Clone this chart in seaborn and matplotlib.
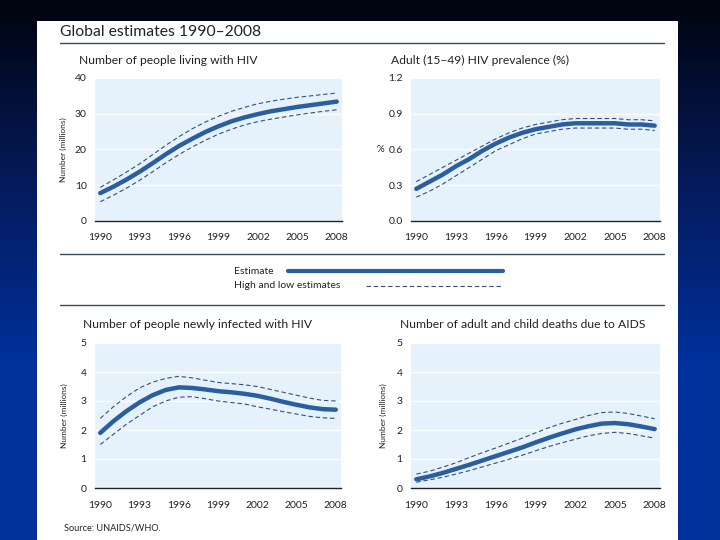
import numpy as np
import pandas as pd
import seaborn as sns
import matplotlib.pyplot as plt
from matplotlib.colors import LinearSegmentedColormap
from matplotlib.lines import Line2D

years = list(range(1990, 2009))

# people living with HIV (millions)
living_est = [7.8, 9.6, 11.6, 13.8, 16.2, 18.7, 21.0, 23.0, 24.9, 26.5, 27.9, 29.0, 29.9, 30.7, 31.3, 31.9, 32.4, 32.9, 33.4]
living_high = [9.4, 11.5, 13.7, 16.0, 18.6, 21.2, 23.6, 25.8, 27.7, 29.3, 30.7, 31.8, 32.8, 33.5, 34.1, 34.6, 35.0, 35.4, 35.8]
living_low = [5.4, 7.2, 9.2, 11.4, 13.8, 16.3, 18.6, 20.7, 22.6, 24.3, 25.7, 26.9, 27.8, 28.5, 29.1, 29.7, 30.2, 30.7, 31.1]

# adult prevalence (%)
prev_est = [0.27, 0.33, 0.39, 0.46, 0.52, 0.59, 0.65, 0.70, 0.74, 0.77, 0.79, 0.81, 0.82, 0.82, 0.82, 0.82, 0.81, 0.81, 0.80]
prev_high = [0.33, 0.39, 0.45, 0.51, 0.57, 0.63, 0.69, 0.74, 0.78, 0.81, 0.83, 0.85, 0.86, 0.86, 0.86, 0.86, 0.85, 0.85, 0.84]
prev_low = [0.20, 0.25, 0.31, 0.38, 0.45, 0.52, 0.59, 0.64, 0.69, 0.73, 0.75, 0.77, 0.78, 0.78, 0.78, 0.78, 0.77, 0.77, 0.76]

# newly infected (millions)
new_est = [1.9, 2.3, 2.65, 2.95, 3.2, 3.38, 3.47, 3.45, 3.4, 3.34, 3.3, 3.25, 3.18, 3.08, 2.97, 2.87, 2.78, 2.72, 2.7]
new_high = [2.4, 2.8, 3.15, 3.45, 3.65, 3.78, 3.85, 3.8, 3.72, 3.64, 3.6, 3.56, 3.5, 3.4, 3.3, 3.2, 3.1, 3.02, 3.0]
new_low = [1.5, 1.85, 2.2, 2.5, 2.8, 3.0, 3.13, 3.15, 3.08, 3.0, 2.95, 2.9, 2.8, 2.72, 2.63, 2.55, 2.47, 2.42, 2.4]

# AIDS deaths (millions)
death_est = [0.3, 0.4, 0.52, 0.66, 0.8, 0.95, 1.1, 1.25, 1.4, 1.57, 1.73, 1.88, 2.02, 2.13, 2.22, 2.24, 2.2, 2.12, 2.03]
death_high = [0.48, 0.58, 0.72, 0.87, 1.05, 1.22, 1.38, 1.55, 1.72, 1.9, 2.08, 2.23, 2.36, 2.5, 2.6, 2.62, 2.57, 2.48, 2.39]
death_low = [0.2, 0.28, 0.37, 0.48, 0.6, 0.73, 0.86, 0.99, 1.13, 1.28, 1.43, 1.56, 1.68, 1.8, 1.88, 1.92, 1.88, 1.8, 1.72]

x_ticks = [1990, 1993, 1996, 1999, 2002, 2005, 2008]

est_color = "#2b5e9e"
band_color = "#34507c"
face_color = "#e5f1fb"
rule_color = "#2f4d5e"
text_color = "#222222"

sns.set_style("white")
plt.rcParams['font.family'] = ['Lato', 'DejaVu Sans']

W, H = 720, 540
fig = plt.figure(figsize=(7.2, 5.4), dpi=100)

# slide background gradient
bg = fig.add_axes([0, 0, 1, 1])
cmap = LinearSegmentedColormap.from_list("slide", ["#00040e", "#061a5a", "#00309a", "#00309a"])
grad = np.linspace(0, 1, 256).reshape(-1, 1)
bg.imshow(grad, aspect="auto", cmap=cmap, extent=[0, 1, 0, 1], origin="upper")
bg.axis("off")

# white sheet
sheet = fig.add_axes([37 / W, 0, (678 - 37) / W, 1 - 21 / H])
sheet.set_facecolor("white")
sheet.set_xticks([])
sheet.set_yticks([])
for s in sheet.spines.values():
    s.set_visible(False)


def fx(px):
    return px / W


def fy(py):
    return 1 - py / H


fig.text(fx(60), fy(32), "Global estimates 1990\u20132008", fontsize=11.3,
         color=text_color, va="center")
for yy in [43, 254, 305]:
    fig.add_artist(Line2D([fx(60), fx(664)], [fy(yy), fy(yy)], color=rule_color, lw=1.0))

panels = [
    dict(box=(95, 78, 342, 221), est=living_est, hi=living_high, lo=living_low,
         ylim=(0, 40), yticks=[0, 10, 20, 30, 40], ylabels=["0", "10", "20", "30", "40"],
         title="Number of people living with HIV", tpos=(79, 60), ylab="Number (millions)", ylx=63),
    dict(box=(411, 78, 660, 221), est=prev_est, hi=prev_high, lo=prev_low,
         ylim=(0, 1.2), yticks=[0, 0.3, 0.6, 0.9, 1.2], ylabels=["0.0", "0.3", "0.6", "0.9", "1.2"],
         title="Adult (15\u201349) HIV prevalence (%)", tpos=(391, 60), ylab="%", ylx=380),
    dict(box=(95, 343, 341, 488), est=new_est, hi=new_high, lo=new_low,
         ylim=(0, 5), yticks=[0, 1, 2, 3, 4, 5], ylabels=["0", "1", "2", "3", "4", "5"],
         title="Number of people newly infected with HIV", tpos=(83, 325), ylab="Number (millions)", ylx=64),
    dict(box=(411, 343, 660, 488), est=death_est, hi=death_high, lo=death_low,
         ylim=(0, 5), yticks=[0, 1, 2, 3, 4, 5], ylabels=["0", "1", "2", "3", "4", "5"],
         title="Number of adult and child deaths due to AIDS", tpos=(400, 325), ylab="Number (millions)", ylx=383),
]

for p in panels:
    x0, y0, x1, y1 = p["box"]
    ax = fig.add_axes([fx(x0), fy(y1), fx(x1 - x0), (y1 - y0) / H])
    ax.set_facecolor(face_color)
    df = pd.DataFrame({"year": years, "est": p["est"], "hi": p["hi"], "lo": p["lo"]})
    sns.lineplot(data=df, x="year", y="hi", ax=ax, color=band_color, lw=0.8, linestyle="--")
    sns.lineplot(data=df, x="year", y="lo", ax=ax, color=band_color, lw=0.8, linestyle="--")
    sns.lineplot(data=df, x="year", y="est", ax=ax, color=est_color, lw=3.2)
    for ln in ax.lines[:2]:
        ln.set_dashes([4, 2.5])
    ax.set_xlim(1989.6, 2008.4)
    ax.set_ylim(*p["ylim"])
    ax.set_yticks(p["yticks"])
    ax.set_yticklabels(p["ylabels"])
    ax.set_xticks(x_ticks)
    ax.set_xticklabels([str(t) for t in x_ticks])
    ax.set_xticks(years, minor=True)
    ax.grid(axis="y", color="white", lw=1.0)
    ax.set_axisbelow(True)
    for s in ["top", "right", "left"]:
        ax.spines[s].set_visible(False)
    ax.spines["bottom"].set_color("#222222")
    ax.spines["bottom"].set_linewidth(1.0)
    ax.tick_params(axis="x", which="both", direction="in", length=3, width=0.8,
                   colors="#222222", labelsize=7.5, pad=9)
    ax.tick_params(axis="y", length=0, labelsize=7.5, colors=text_color, pad=6)
    ax.set_xlabel("")
    ax.set_ylabel("")
    fig.text(fx(p["tpos"][0]), fy(p["tpos"][1]), p["title"], fontsize=8.7,
             color=text_color, va="center")
    mid = fy((y0 + y1) / 2)
    if p["ylab"] == "%":
        fig.text(fx(p["ylx"]), mid, "%", fontsize=7, color=text_color, va="center", ha="center")
    else:
        fig.text(fx(p["ylx"]), mid, p["ylab"], fontsize=6, color=text_color,
                 va="center", ha="center", rotation=90)

# legend block
fig.text(fx(234), fy(271), "Estimate", fontsize=7.5, color=text_color, va="center")
fig.add_artist(Line2D([fx(288), fx(503)], [fy(271), fy(271)], color=est_color, lw=3))
fig.text(fx(234), fy(286), "High and low estimates", fontsize=7.5, color=text_color, va="center")
fig.add_artist(Line2D([fx(366), fx(503)], [fy(286), fy(286)], color=band_color, lw=0.8,
                      dashes=[4, 2.5]))

fig.text(fx(64), fy(528), "Source: UNAIDS/WHO.", fontsize=6.6, color=text_color, va="center")

plt.savefig("out.png", dpi=100)
